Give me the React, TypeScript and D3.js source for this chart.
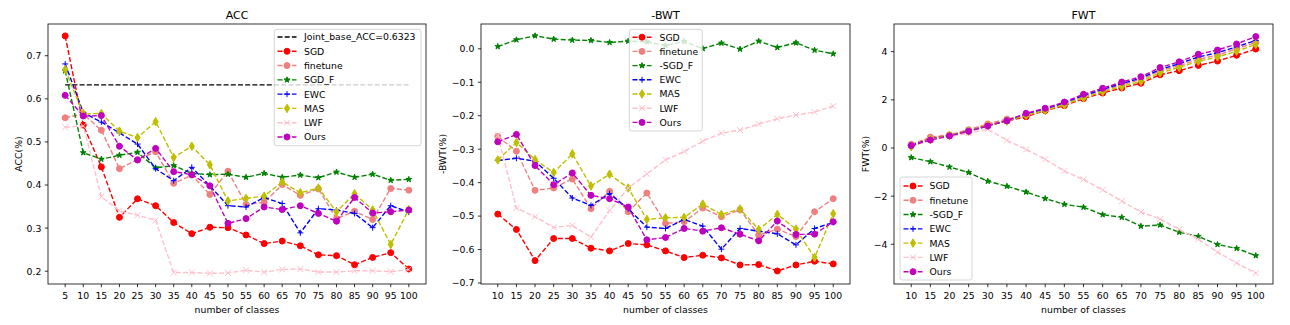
import React from "react";
import * as d3 from "d3";

// ---------------- DATA ----------------
const accClasses = [5, 10, 15, 20, 25, 30, 35, 40, 45, 50, 55, 60, 65, 70, 75, 80, 85, 90, 95, 100];
const classes = [10, 15, 20, 25, 30, 35, 40, 45, 50, 55, 60, 65, 70, 75, 80, 85, 90, 95, 100];
const jointBaseAcc = 0.6323;

const accSGD = [0.746, 0.539, 0.442, 0.325, 0.368, 0.352, 0.313, 0.287, 0.302, 0.301, 0.284, 0.264, 0.27, 0.259, 0.238, 0.236, 0.215, 0.232, 0.243, 0.205];
const accFinetune = [0.556, 0.565, 0.527, 0.438, 0.459, 0.477, 0.404, 0.423, 0.378, 0.432, 0.355, 0.36, 0.401, 0.376, 0.391, 0.322, 0.339, 0.32, 0.392, 0.388];
const accSGDF = [0.665, 0.475, 0.46, 0.469, 0.476, 0.44, 0.445, 0.427, 0.424, 0.425, 0.418, 0.427, 0.418, 0.423, 0.417, 0.43, 0.418, 0.425, 0.411, 0.413];
const accEWC = [0.681, 0.568, 0.546, 0.521, 0.495, 0.438, 0.41, 0.441, 0.398, 0.352, 0.349, 0.371, 0.357, 0.289, 0.345, 0.342, 0.334, 0.301, 0.352, 0.337];
const accMAS = [0.668, 0.565, 0.566, 0.525, 0.51, 0.547, 0.464, 0.49, 0.447, 0.363, 0.369, 0.374, 0.407, 0.382, 0.393, 0.338, 0.38, 0.342, 0.262, 0.343];
const accLWF = [0.534, 0.537, 0.373, 0.34, 0.33, 0.318, 0.197, 0.197, 0.195, 0.196, 0.202, 0.198, 0.204, 0.205, 0.198, 0.198, 0.201, 0.201, 0.199, 0.204];
const accOurs = [0.608, 0.56, 0.561, 0.49, 0.458, 0.485, 0.431, 0.424, 0.398, 0.311, 0.322, 0.349, 0.343, 0.352, 0.334, 0.316, 0.371, 0.335, 0.338, 0.342];

const bwtSGD = [-0.494, -0.54, -0.633, -0.567, -0.567, -0.596, -0.604, -0.582, -0.586, -0.604, -0.624, -0.617, -0.625, -0.646, -0.645, -0.664, -0.646, -0.635, -0.643];
const bwtFinetune = [-0.262, -0.306, -0.423, -0.416, -0.389, -0.478, -0.426, -0.487, -0.431, -0.522, -0.517, -0.476, -0.502, -0.481, -0.557, -0.539, -0.561, -0.487, -0.448];
const bwtSGDF = [0.007, 0.027, 0.039, 0.029, 0.026, 0.025, 0.019, 0.023, 0.021, 0.01, 0.022, 0.001, 0.017, -0.001, 0.023, 0.004, 0.018, -0.004, -0.015];
const bwtEWC = [-0.334, -0.327, -0.336, -0.387, -0.446, -0.468, -0.433, -0.478, -0.533, -0.537, -0.51, -0.53, -0.599, -0.537, -0.545, -0.553, -0.586, -0.537, -0.519];
const bwtMAS = [-0.332, -0.28, -0.331, -0.37, -0.314, -0.41, -0.375, -0.416, -0.51, -0.505, -0.504, -0.464, -0.495, -0.479, -0.54, -0.495, -0.539, -0.624, -0.493];
const bwtLWF = [-0.258, -0.476, -0.502, -0.534, -0.528, -0.563, -0.483, -0.416, -0.374, -0.332, -0.307, -0.276, -0.252, -0.243, -0.225, -0.209, -0.198, -0.189, -0.171];
const bwtOurs = [-0.278, -0.256, -0.349, -0.406, -0.371, -0.438, -0.448, -0.473, -0.571, -0.564, -0.537, -0.545, -0.535, -0.554, -0.574, -0.515, -0.555, -0.554, -0.517];

const fwtSGD = [0.11, 0.42, 0.53, 0.71, 0.96, 1.12, 1.3, 1.55, 1.76, 2.05, 2.28, 2.49, 2.69, 3.04, 3.21, 3.43, 3.61, 3.85, 4.11];
const fwtFinetune = [0.15, 0.45, 0.55, 0.76, 1.0, 1.2, 1.38, 1.6, 1.82, 2.12, 2.38, 2.62, 2.85, 3.2, 3.42, 3.68, 3.86, 4.12, 4.38];
const fwtSGDF = [-0.4, -0.57, -0.79, -1.02, -1.38, -1.59, -1.83, -2.1, -2.34, -2.46, -2.77, -2.88, -3.25, -3.2, -3.5, -3.67, -4.01, -4.17, -4.47];
const fwtEWC = [0.1, 0.36, 0.52, 0.7, 0.93, 1.13, 1.42, 1.62, 1.88, 2.18, 2.43, 2.68, 2.9, 3.26, 3.5, 3.78, 3.96, 4.2, 4.47];
const fwtMAS = [0.05, 0.36, 0.52, 0.7, 0.93, 1.12, 1.36, 1.56, 1.8, 2.08, 2.34, 2.55, 2.77, 3.12, 3.35, 3.6, 3.78, 4.02, 4.3];
const fwtLWF = [0.08, 0.33, 0.47, 0.61, 0.78, 0.32, -0.06, -0.47, -0.96, -1.31, -1.74, -2.21, -2.66, -2.95, -3.38, -3.79, -4.33, -4.78, -5.2];
const fwtOurs = [0.1, 0.33, 0.5, 0.69, 0.91, 1.13, 1.44, 1.65, 1.91, 2.23, 2.48, 2.74, 2.96, 3.34, 3.58, 3.89, 4.07, 4.32, 4.63];

const accTicks = [0.2, 0.3, 0.4, 0.5, 0.6, 0.7];
const bwtTicks = [-0.7, -0.6, -0.5, -0.4, -0.3, -0.2, -0.1, 0.0];
const fwtTicks = [-4, -2, 0, 2, 4];

// ---------------- STYLE ----------------
const FONT = "DejaVu Sans, sans-serif";
const FS = 9.3;
const TITLE_FS = 11;
const COLORS = {
  SGD: "#ff0000",
  finetune: "#f08080",
  SGD_F: "#008000",
  EWC: "#0000ff",
  MAS: "#bfbf00",
  LWF: "#ffc0cb",
  Ours: "#bf00bf",
};

type Marker = "o" | "*" | "+" | "d" | "x" | "none";
interface Series { name: string; values: number[]; color: string; marker: Marker; }

function starPath(r: number): string {
  const pts: string[] = [];
  const inner = r * 0.381966;
  for (let i = 0; i < 10; i++) {
    const rr = i % 2 === 0 ? r : inner;
    const a = -Math.PI / 2 + (i * Math.PI) / 5;
    pts.push(`${(rr * Math.cos(a)).toFixed(3)},${(rr * Math.sin(a)).toFixed(3)}`);
  }
  return "M" + pts.join("L") + "Z";
}

function MarkerShape({ type, x, y, color }: { type: Marker; x: number; y: number; color: string }) {
  const s = 6;
  const r = s / 2;
  const tr = `translate(${x},${y})`;
  if (type === "o") return <circle cx={x} cy={y} r={r} fill={color} stroke={color} strokeWidth={1} />;
  if (type === "*") return <path transform={tr} d={starPath(r)} fill={color} stroke={color} strokeWidth={1} strokeLinejoin="miter" />;
  if (type === "d") {
    const h = 0.7071 * s;
    const w = 0.6 * h;
    return <path transform={tr} d={`M0,${-h}L${w},0L0,${h}L${-w},0Z`} fill={color} stroke={color} strokeWidth={1} />;
  }
  if (type === "+") return <path transform={tr} d={`M${-r},0H${r}M0,${-r}V${r}`} fill="none" stroke={color} strokeWidth={1} />;
  if (type === "x") return <path transform={tr} d={`M${-r},${-r}L${r},${r}M${-r},${r}L${r},${-r}`} fill="none" stroke={color} strokeWidth={1} />;
  return null;
}

const DASH = "5,2.2";

interface LegendCfg { x0: number; x1: number; y0: number; y1: number; firstY: number; step: number; hx: number; tx: number; }

interface PanelProps {
  left: number; right: number; top: number; bottom: number;
  title: string; ylabel: string; ylabelX: number;
  xs: number[]; series: Series[];
  yDomain: [number, number]; yTicks: number[]; yFmt: (v: number) => string;
  legend: LegendCfg;
  joint?: { value: number; label: string };
}

function fmtMinus(s: string) { return s.replace("-", "\u2212"); }

function Panel(p: PanelProps) {
  const xmin = d3.min(p.xs)!; const xmax = d3.max(p.xs)!;
  const m = (xmax - xmin) * 0.05;
  const x = d3.scaleLinear().domain([xmin - m, xmax + m]).range([p.left, p.right]);
  const y = d3.scaleLinear().domain(p.yDomain).range([p.bottom, p.top]);
  const line = d3.line<number>().x((_, i) => x(p.xs[i])).y((v) => y(v));
  const cx = (p.left + p.right) / 2;
  const cy = (p.top + p.bottom) / 2;
  const L = p.legend;
  const entries: { label: string; color: string; marker: Marker }[] = [];
  if (p.joint) entries.push({ label: p.joint.label, color: "#000000", marker: "none" });
  p.series.forEach((s) => entries.push({ label: s.name, color: s.color, marker: s.marker }));
  return (
    <g>
      <text x={cx} y={19} textAnchor="middle" fontSize={TITLE_FS} fontFamily={FONT} fill="#000">{p.title}</text>
      {p.joint && (
        <line x1={x(xmin)} x2={x(xmax)} y1={y(p.joint.value)} y2={y(p.joint.value)} stroke="#000" strokeWidth={1.4} strokeDasharray={DASH} />
      )}
      {p.series.map((s) => (
        <g key={s.name}>
          <path d={line(s.values) || ""} fill="none" stroke={s.color} strokeWidth={1.4} strokeDasharray={DASH} />
          {s.values.map((v, i) => (
            <MarkerShape key={i} type={s.marker} x={x(p.xs[i])} y={y(v)} color={s.color} />
          ))}
        </g>
      ))}
      <rect x={p.left} y={p.top} width={p.right - p.left} height={p.bottom - p.top} fill="none" stroke="#000" strokeWidth={0.8} />
      {p.xs.map((v) => (
        <g key={"xt" + v}>
          <line x1={x(v)} x2={x(v)} y1={p.bottom} y2={p.bottom + 3.2} stroke="#000" strokeWidth={0.8} />
          <text x={x(v)} y={p.bottom + 15.3} textAnchor="middle" fontSize={FS} fontFamily={FONT} fill="#000">{v}</text>
        </g>
      ))}
      {p.yTicks.map((v) => (
        <g key={"yt" + v}>
          <line x1={p.left - 3.2} x2={p.left} y1={y(v)} y2={y(v)} stroke="#000" strokeWidth={0.8} />
          <text x={p.left - 6.6} y={y(v) + 3.4} textAnchor="end" fontSize={FS} fontFamily={FONT} fill="#000">{fmtMinus(p.yFmt(v))}</text>
        </g>
      ))}
      <text x={cx} y={p.bottom + 28.8} textAnchor="middle" fontSize={FS} fontFamily={FONT} fill="#000">number of classes</text>
      <text transform={`translate(${p.ylabelX},${cy}) rotate(-90)`} textAnchor="middle" fontSize={FS} fontFamily={FONT} fill="#000">{p.ylabel}</text>
      <rect x={L.x0} y={L.y0} width={L.x1 - L.x0} height={L.y1 - L.y0} rx={2.5} ry={2.5} fill="#ffffff" fillOpacity={0.8} stroke="#cccccc" strokeWidth={0.8} />
      {entries.map((e, i) => {
        const ey = L.firstY + i * L.step;
        return (
          <g key={"lg" + i}>
            <line x1={L.hx} x2={L.hx + 19} y1={ey} y2={ey} stroke={e.color} strokeWidth={1.4} strokeDasharray={DASH} />
            <MarkerShape type={e.marker} x={L.hx + 9.5} y={ey} color={e.color} />
            <text x={L.tx} y={ey + 3.4} fontSize={FS} fontFamily={FONT} fill="#000">{e.label}</text>
          </g>
        );
      })}
    </g>
  );
}

export default function App() {
  const accSeries: Series[] = [
    { name: "SGD", values: accSGD, color: COLORS.SGD, marker: "o" },
    { name: "finetune", values: accFinetune, color: COLORS.finetune, marker: "o" },
    { name: "SGD_F", values: accSGDF, color: COLORS.SGD_F, marker: "*" },
    { name: "EWC", values: accEWC, color: COLORS.EWC, marker: "+" },
    { name: "MAS", values: accMAS, color: COLORS.MAS, marker: "d" },
    { name: "LWF", values: accLWF, color: COLORS.LWF, marker: "x" },
    { name: "Ours", values: accOurs, color: COLORS.Ours, marker: "o" },
  ];
  const bwtSeries: Series[] = [
    { name: "SGD", values: bwtSGD, color: COLORS.SGD, marker: "o" },
    { name: "finetune", values: bwtFinetune, color: COLORS.finetune, marker: "o" },
    { name: "-SGD_F", values: bwtSGDF, color: COLORS.SGD_F, marker: "*" },
    { name: "EWC", values: bwtEWC, color: COLORS.EWC, marker: "+" },
    { name: "MAS", values: bwtMAS, color: COLORS.MAS, marker: "d" },
    { name: "LWF", values: bwtLWF, color: COLORS.LWF, marker: "x" },
    { name: "Ours", values: bwtOurs, color: COLORS.Ours, marker: "o" },
  ];
  const fwtSeries: Series[] = [
    { name: "SGD", values: fwtSGD, color: COLORS.SGD, marker: "o" },
    { name: "finetune", values: fwtFinetune, color: COLORS.finetune, marker: "o" },
    { name: "-SGD_F", values: fwtSGDF, color: COLORS.SGD_F, marker: "*" },
    { name: "EWC", values: fwtEWC, color: COLORS.EWC, marker: "+" },
    { name: "MAS", values: fwtMAS, color: COLORS.MAS, marker: "d" },
    { name: "LWF", values: fwtLWF, color: COLORS.LWF, marker: "x" },
    { name: "Ours", values: fwtOurs, color: COLORS.Ours, marker: "o" },
  ];
  return (
    <svg width={1290} height={325} style={{ position: "absolute", left: 0, top: 0, background: "#fff" }}>
      <rect x={0} y={0} width={1290} height={325} fill="#fff" />
      <Panel left={48} right={426} top={24} bottom={284} title="ACC" ylabel="ACC(%)" ylabelX={21.5}
        xs={accClasses} series={accSeries} yDomain={[0.1703, 0.7736]} yTicks={accTicks} yFmt={(v) => v.toFixed(1)}
        joint={{ value: jointBaseAcc, label: `Joint_base_ACC=${jointBaseAcc}` }}
        legend={{ x0: 274.3, x1: 421, y0: 29.3, y1: 145.7, firstY: 37, step: 14.28, hx: 277.5, tx: 304 }} />
      <Panel left={481} right={850} top={24} bottom={284} title="-BWT" ylabel="-BWT(%)" ylabelX={445.5}
        xs={classes} series={bwtSeries} yDomain={[-0.703, 0.0742]} yTicks={bwtTicks} yFmt={(v) => v.toFixed(1)}
        legend={{ x0: 629.3, x1: 702.3, y0: 29.3, y1: 131, firstY: 37.2, step: 14.2, hx: 632.5, tx: 659.5 }} />
      <Panel left={894} right={1273} top={24} bottom={284} title="FWT" ylabel="FWT(%)" ylabelX={868.5}
        xs={classes} series={fwtSeries} yDomain={[-5.65, 5.15]} yTicks={fwtTicks} yFmt={(v) => String(v)}
        legend={{ x0: 900, x1: 972, y0: 177, y1: 280, firstY: 186, step: 14.28, hx: 903.5, tx: 929.5 }} />
    </svg>
  );
}
